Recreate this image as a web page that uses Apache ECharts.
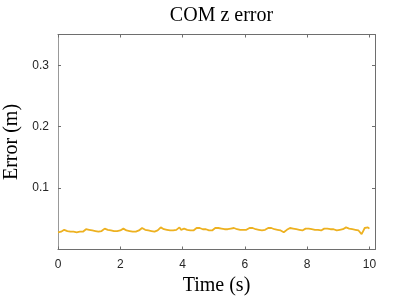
<!DOCTYPE html>
<html>
<head>
<meta charset="utf-8">
<script src="https://cdn.jsdelivr.net/npm/echarts@6/dist/echarts.min.js"></script>
<style>html,body{margin:0;padding:0;background:#fff}#c{width:415px;height:300px}</style>
</head>
<body>
<div id="c"></div>
<script>
const title = 'COM z error';
const xName = 'Time (s)';
const yName = 'Error (m)';
const xTicks = [0, 2, 4, 6, 8, 10];
const yTicks = [0.1, 0.2, 0.3];
const times = [
0.00,0.05,0.10,0.15,0.20,0.25,0.30,0.35,0.40,0.45,
0.50,0.55,0.60,0.65,0.70,0.75,0.80,0.85,0.90,0.95,
1.00,1.05,1.10,1.15,1.20,1.25,1.30,1.35,1.40,1.45,
1.50,1.55,1.60,1.65,1.70,1.75,1.80,1.85,1.90,1.95,
2.00,2.05,2.10,2.15,2.20,2.25,2.30,2.35,2.40,2.45,
2.50,2.55,2.60,2.65,2.70,2.75,2.80,2.85,2.90,2.95,
3.00,3.05,3.10,3.15,3.20,3.25,3.30,3.35,3.40,3.45,
3.50,3.55,3.60,3.65,3.70,3.75,3.80,3.85,3.90,3.95,
4.00,4.05,4.10,4.15,4.20,4.25,4.30,4.35,4.40,4.45,
4.50,4.55,4.60,4.65,4.70,4.75,4.80,4.85,4.90,4.95,
5.00,5.05,5.10,5.15,5.20,5.25,5.30,5.35,5.40,5.45,
5.50,5.55,5.60,5.65,5.70,5.75,5.80,5.85,5.90,5.95,
6.00,6.05,6.10,6.15,6.20,6.25,6.30,6.35,6.40,6.45,
6.50,6.55,6.60,6.65,6.70,6.75,6.80,6.85,6.90,6.95,
7.00,7.05,7.10,7.15,7.20,7.25,7.30,7.35,7.40,7.45,
7.50,7.55,7.60,7.65,7.70,7.75,7.80,7.85,7.90,7.95,
8.00,8.05,8.10,8.15,8.20,8.25,8.30,8.35,8.40,8.45,
8.50,8.55,8.60,8.65,8.70,8.75,8.80,8.85,8.90,8.95,
9.00,9.05,9.10,9.15,9.20,9.25,9.30,9.35,9.40,9.45,
9.50,9.55,9.60,9.65,9.70,9.75,9.80,9.85,9.90,9.95,
10.00];
const errors = [
0.028,0.029,0.029,0.031,0.032,0.031,0.030,0.030,0.029,0.030,
0.029,0.029,0.028,0.029,0.029,0.028,0.029,0.031,0.033,0.030,
0.032,0.031,0.031,0.030,0.030,0.031,0.029,0.030,0.030,0.032,
0.034,0.033,0.032,0.031,0.031,0.030,0.030,0.031,0.030,0.030,
0.031,0.033,0.034,0.032,0.031,0.031,0.030,0.029,0.029,0.030,
0.029,0.030,0.031,0.033,0.035,0.033,0.032,0.032,0.031,0.030,
0.030,0.030,0.029,0.030,0.031,0.034,0.036,0.034,0.033,0.032,
0.032,0.031,0.031,0.032,0.031,0.032,0.032,0.035,0.036,0.032,
0.033,0.034,0.033,0.032,0.032,0.031,0.032,0.031,0.032,0.035,
0.037,0.035,0.033,0.033,0.032,0.033,0.032,0.031,0.032,0.031,
0.032,0.035,0.036,0.035,0.034,0.034,0.033,0.033,0.032,0.033,
0.032,0.034,0.036,0.035,0.034,0.033,0.033,0.032,0.033,0.032,
0.031,0.032,0.033,0.035,0.036,0.035,0.034,0.033,0.033,0.032,
0.032,0.031,0.031,0.032,0.033,0.035,0.036,0.035,0.034,0.033,
0.033,0.032,0.032,0.031,0.030,0.028,0.031,0.032,0.034,0.035,
0.035,0.034,0.033,0.033,0.032,0.032,0.031,0.031,0.032,0.034,
0.035,0.034,0.033,0.033,0.032,0.032,0.031,0.032,0.031,0.031,
0.032,0.034,0.035,0.034,0.033,0.033,0.032,0.033,0.032,0.031,
0.031,0.032,0.032,0.033,0.034,0.036,0.037,0.034,0.034,0.033,
0.033,0.032,0.032,0.031,0.031,0.025,0.030,0.035,0.037,0.036,
0.034];

const data = times.map((t, i) => [t, errors[i]]);
const serif = 'Liberation Serif';
const sans = 'Liberation Sans';
const axisCol = '#6e6e6e';

const chart = echarts.init(document.getElementById('c'), null, {renderer: 'canvas'});
chart.setOption({
  animation: false,
  backgroundColor: '#fff',
  title: {
    text: title, left: 216.5, top: 1, textAlign: 'center',
    textStyle: {fontFamily: serif, fontSize: 20, fontWeight: 'normal', color: '#000'}
  },
  grid: {left: 58, right: 40, top: 34.5, bottom: 50.5, containLabel: false, outerBoundsMode: 'none'},
  xAxis: [{
    type: 'value', min: 0, max: 10.18,
    name: xName, nameLocation: 'middle', nameGap: 24,
    nameTextStyle: {fontFamily: serif, fontSize: 20, color: '#000', verticalAlign: 'top'},
    axisLine: {show: true, onZero: false, lineStyle: {color: axisCol, width: 1}},
    axisTick: {show: true, inside: true, length: 3, customValues: xTicks, lineStyle: {color: axisCol}},
    axisLabel: {customValues: xTicks, margin: 9, fontFamily: sans, fontSize: 12, color: '#262626'},
    splitLine: {show: false}
  }, {
    type: 'value', min: 0, max: 10.18, position: 'top',
    axisLine: {show: true, onZero: false, lineStyle: {color: axisCol, width: 1}},
    axisTick: {show: true, inside: true, length: 3, customValues: xTicks, lineStyle: {color: axisCol}},
    axisLabel: {show: false},
    splitLine: {show: false}
  }],
  yAxis: [{
    type: 'value', min: 0, max: 0.35,
    name: yName, nameLocation: 'middle', nameGap: 35, nameRotate: 90,
    nameTextStyle: {fontFamily: serif, fontSize: 20, color: '#000'},
    axisLine: {show: true, onZero: false, lineStyle: {color: '#999', width: 1}},
    axisTick: {show: true, inside: true, length: 3, customValues: yTicks, lineStyle: {color: axisCol}},
    axisLabel: {customValues: yTicks, margin: 9, fontFamily: sans, fontSize: 12, color: '#262626'},
    splitLine: {show: false}
  }, {
    type: 'value', min: 0, max: 0.35, position: 'right',
    axisLine: {show: true, onZero: false, lineStyle: {color: axisCol, width: 1}},
    axisTick: {show: true, inside: true, length: 3, customValues: yTicks, lineStyle: {color: axisCol}},
    axisLabel: {show: false},
    splitLine: {show: false}
  }],
  series: [{
    type: 'line', data: data, xAxisIndex: 0, yAxisIndex: 0,
    showSymbol: false, symbol: 'none',
    lineStyle: {color: '#EDB120', width: 1.8},
    itemStyle: {color: '#EDB120'}
  }]
});
</script>
</body>
</html>
